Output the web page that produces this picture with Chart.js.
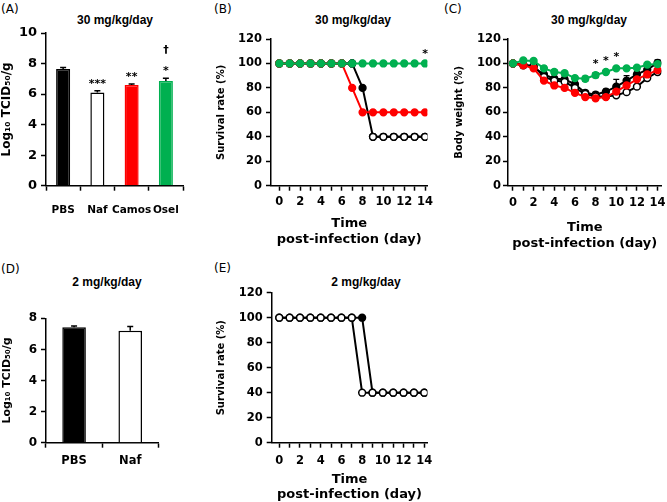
<!DOCTYPE html>
<html><head><meta charset="utf-8">
<script src="https://cdn.jsdelivr.net/npm/chart.js@4.4.0/dist/chart.umd.min.js"></script>
<style>
html,body{margin:0;padding:0;background:#fff;}
#wrap{position:relative;width:667px;height:502px;overflow:hidden;font-family:"Liberation Sans",Arial,sans-serif;color:#000;}
canvas{position:absolute;}
.lbl{position:absolute;font-family:"DejaVu Sans",sans-serif;font-size:12px;transform:translate(0,-50%);white-space:nowrap;}
.ttl{position:absolute;font-size:12px;font-weight:bold;transform:translate(-50%,-50%);white-space:nowrap;}
</style></head><body>
<div id="wrap">
<div class="lbl" style="left:1px;top:9px">(A)</div>
<div class="lbl" style="left:214px;top:9px">(B)</div>
<div class="lbl" style="left:444px;top:9px">(C)</div>
<div class="lbl" style="left:1px;top:269px">(D)</div>
<div class="lbl" style="left:214px;top:268px">(E)</div>
<div class="ttl" style="left:115px;top:20px">30 mg/kg/day</div>
<div class="ttl" style="left:353px;top:20px">30 mg/kg/day</div>
<div class="ttl" style="left:589px;top:20px">30 mg/kg/day</div>
<div class="ttl" style="left:107px;top:282px">2 mg/kg/day</div>
<div class="ttl" style="left:366px;top:282px">2 mg/kg/day</div>
<canvas id="cA" width="210" height="250" style="left:0;top:0;width:210px;height:250px"></canvas>
<canvas id="cB" width="230" height="250" style="left:210px;top:0;width:230px;height:250px"></canvas>
<canvas id="cC" width="227" height="252" style="left:440px;top:0;width:227px;height:252px"></canvas>
<canvas id="cD" width="210" height="252" style="left:0;top:250px;width:210px;height:252px"></canvas>
<canvas id="cE" width="230" height="252" style="left:210px;top:250px;width:230px;height:252px"></canvas>
</div>
<script>
// ---------- data ----------
const days = [0,1,2,3,4,5,6,7,8,9,10,11,12,13,14];
const groupsA = ['PBS','Naf','Camos','Osel'];
const groupsD = ['PBS','Naf'];

// (A) lung titer, 30 mg/kg/day
const titerA = [7.64, 6.11, 6.60, 6.86];
const titerErrA = [0.10, 0.10, 0.06, 0.17];
const sigA = ['', '***', '**', '*'];
const daggerA = ['', '', '', '†'];

// (B) survival, 30 mg/kg/day
const survB_PBS   = [100,100,100,100,100,100,100,100,80,40,40,40,40,40,40];
const survB_Naf   = [100,100,100,100,100,100,100,100,null,40,40,40,40,40,40];
const survB_Camos = [100,100,100,100,100,100,100,80,60,60,60,60,60,60,60];
const survB_Osel  = [100,100,100,100,100,100,100,100,100,100,100,100,100,100,100];
const sigDaysB = [14];

// (C) body weight, 30 mg/kg/day
const bwC_PBS   = [100, 98.5, 97, 91, 87.5, 87, 83, 76, 74.5, 77, 81, 86, 91, 95, 100.5];
const bwC_Naf   = [100, 99, 98, 89, 86, 85, 80, 75, 73, 73, 74, 76.5, 81, 88, 93];
const bwC_Camos = [100, 98.5, 96, 86, 82, 80, 76, 72.5, 71.5, 72.5, 77, 82, 87, 91, 94.5];
const bwC_Osel  = [100, 102.5, 102, 96, 93, 92, 88, 87.5, 90.5, 93, 96, 96, 96.5, 99, 99.5];
const bwErr_PBS   = [0, 2, 1, 2, 2, 2, 1.5, 1.5, 2, 2, 6, 4, 2, 2, 2.5];
const bwErr_Naf   = [0, 1, 1, 1, 1, 1, 1, 1, 1, 1, 1, 1, 1, 1, 1];
const bwErr_Camos = [0, 1, 1, 1, 1, 1, 1, 1, 1.5, 1, 1, 1, 1, 1, 1];
const bwErr_Osel  = [0, 1, 1, 1.5, 2, 1.5, 1.5, 2, 2, 1.5, 1, 1, 1, 1, 1.5];
const sigDaysC = [8, 9, 10];

// (D) lung titer, 2 mg/kg/day
const titerD = [7.42, 7.20];
const titerErrD = [0.08, 0.28];

// (E) survival, 2 mg/kg/day
const survE_PBS = [100,100,100,100,100,100,100,100,100,40,40,40,40,40,40];
const survE_Naf = [100,100,100,100,100,100,100,100,40,40,40,40,40,40,40];

// ---------- styles ----------
const COL = {PBS:'#000000', Naf:'#ffffff', Camos:'#FF0000', Osel:'#00B050'};
const FONT = '"DejaVu Sans", "Liberation Sans", sans-serif';
Chart.defaults.font.family = FONT;
Chart.defaults.font.weight = 'bold';
Chart.defaults.color = '#000';

const errPlugin = {
  id: 'errbars',
  beforeDatasetDraw(chart, args, opts) {
    if (!opts || !opts.sets) return;
    const e = opts.sets[args.index]; if (!e) return;
    const ds = chart.data.datasets[args.index];
    const ys = chart.scales.y, ctx = chart.ctx;
    ctx.save(); ctx.strokeStyle = '#000'; ctx.lineWidth = opts.width || 1.3;
    args.meta.data.forEach((el, i) => {
      const v = ds.data[i], er = e[i];
      if (v == null || !er) return;
      const x = el.x;
      const yt = ys.getPixelForValue(v + er);
      const yb = opts.both ? ys.getPixelForValue(v - er) : el.y;
      ctx.beginPath();
      ctx.moveTo(x, yb); ctx.lineTo(x, yt);
      ctx.moveTo(x - opts.cap, yt); ctx.lineTo(x + opts.cap, yt);
      if (opts.both) { ctx.moveTo(x - opts.cap, yb); ctx.lineTo(x + opts.cap, yb); }
      ctx.stroke();
    });
    ctx.restore();
  }
};
const notePlugin = {
  id: 'notes',
  afterDatasetsDraw(chart, args, opts) {
    if (!opts || !opts.items) return;
    const ctx = chart.ctx, xs = chart.scales.x, ys = chart.scales.y;
    ctx.save(); ctx.fillStyle = '#000'; ctx.textAlign = 'center'; ctx.textBaseline = 'alphabetic';
    opts.items.forEach(it => {
      if (!it.text) return;
      ctx.font = 'bold ' + (it.size || 11) + 'px ' + FONT;
      ctx.fillText(it.text, xs.getPixelForValue(it.x), ys.getPixelForValue(it.y) - it.lift);
    });
    ctx.restore();
  }
};
Chart.register(errPlugin, notePlugin);

function gridOpts() {
  return {drawOnChartArea:false, drawTicks:true, tickLength:5, tickColor:'#000', tickWidth:1.5, color:'#000'};
}
function border() { return {color:'#000', width:1.5}; }
function tf(size) { return {family:FONT, size:size, weight:'bold'}; }

function barChart(id, cats, vals, errs, colors, o) {
  return new Chart(document.getElementById(id), {
    type: 'bar',
    data: {labels: cats, datasets: [{
      data: vals, backgroundColor: colors,
      borderColor: colors.map(c => c === '#ffffff' ? '#000' : c),
      borderWidth: 1.5, barPercentage: o.barPct, categoryPercentage: 1
    }]},
    options: {
      responsive: false, animation: false, devicePixelRatio: 1,
      layout: {padding: {left:0, top:o.top, right:o.right, bottom:0}},
      plugins: {legend:{display:false}, tooltip:{enabled:false},
        errbars: {sets:[errs], cap:3, width:1.5}, notes: {items:o.notes || []}},
      scales: {
        x: {grid: gridOpts(), border: border(),
            ticks: {font:tf(o.xfont), color:'#000', padding:o.xpad, maxRotation:0, autoSkip:false},
            afterFit: s => { s.height = o.xh; s.paddingLeft = 0; s.paddingRight = 0; }},
        y: {min:0, max:o.ymax, grid: gridOpts(), border: border(),
            ticks: {stepSize:2, font:tf(o.yfont), color:'#000', padding:4},
            title: {display:true, text:'Log\u2081\u2080 TCID\u2085\u2080/g', color:'#000', font:{size:o.tfont, weight:'bold'}, padding:{top:o.tpad, bottom:0}},
            afterFit: s => { s.width = o.yw; s.paddingTop = 0; s.paddingBottom = 0; }}
      }
    }
  });
}

function lineDs(data, stroke, fill) {
  return {data, borderColor: stroke, backgroundColor: fill, pointBackgroundColor: fill,
    pointBorderColor: stroke, borderWidth: 2, pointRadius: 3.4,
    pointBorderWidth: 1.5, tension: 0, spanGaps: false};
}

function lineChart(id, datasets, o) {
  return new Chart(document.getElementById(id), {
    type: 'line',
    data: {labels: days, datasets},
    options: {
      responsive: false, animation: false, devicePixelRatio: 1,
      layout: {padding: {left:0, top:o.top, right:o.right, bottom:0}},
      plugins: {legend:{display:false}, tooltip:{enabled:false},
        errbars: {sets:o.errs || [], cap:3, width:1.3, both:true}, notes: {items:o.notes || []}},
      scales: {
        x: {type:'linear', min:o.xmin, max:o.xmax, grid: gridOpts(), border: border(),
            afterBuildTicks: s => { s.ticks = days.map(v => ({value:v})); },
            ticks: {font:tf(11.5), color:'#000', padding:o.xpad, maxRotation:0, autoSkip:false,
                    callback: v => (v % 2 === 0 ? String(v) : '')},
            title: {display:true, text:['Time','post-infection (day)'], color:'#000', font:{size:13, weight:'bold', lineHeight:o.xtlh}, padding:{top:0, bottom:o.xtpad}},
            afterFit: s => { s.height = o.xh; s.paddingLeft = 0; s.paddingRight = 0; }},
        y: {min:0, max:120, grid: gridOpts(), border: border(),
            ticks: {stepSize:20, font:tf(11.5), color:'#000', padding:o.ypad},
            title: {display:true, text:o.ytitle, color:'#000', font:{size:10, weight:'bold'}, padding:{top:o.tpad, bottom:0}},
            afterFit: s => { s.width = o.yw; s.paddingTop = 0; s.paddingBottom = 0; }}
      }
    }
  });
}

// (A)
barChart('cA', groupsA, titerA, titerErrA, [COL.PBS, COL.Naf, COL.Camos, COL.Osel], {
  barPct:0.41, top:33, right:27, xh:64.3, yw:46, ymax:10, xfont:10.5, xpad:12.8, yfont:13, tfont:12, tpad:0,
  notes: sigA.map((t,i) => ({x:i, y:titerA[i]+titerErrA[i], text:t, lift:4}))
         .concat(daggerA.map((t,i) => ({x:i, y:titerA[i]+titerErrA[i], text:t, lift:25})))
});

// (B)
lineChart('cB', [
  lineDs(survB_Osel, COL.Osel, COL.Osel),
  lineDs(survB_Camos, COL.Camos, COL.Camos),
  lineDs(survB_Naf, '#000000', COL.Naf),
  lineDs(survB_PBS, COL.PBS, COL.PBS)
], {top:39, right:12.7, xmin:-0.8, xmax:14.22, xh:64.3, yw:61, xpad:4.4, xtlh:1.23, xtpad:2, ypad:4,
    ytitle:'Survival rate (%)', tpad:5.7,
    notes: sigDaysB.map(d => ({x:d, y:survB_Osel[d], text:'*', lift:6}))});

// (C)
lineChart('cC', [
  lineDs(bwC_Osel, COL.Osel, COL.Osel),
  lineDs(bwC_Camos, COL.Camos, COL.Camos),
  lineDs(bwC_Naf, '#000000', COL.Naf),
  lineDs(bwC_PBS, COL.PBS, COL.PBS)
], {top:39, right:4, xmin:-0.48, xmax:14.38, xh:66.3, yw:68, xpad:5.7, xtlh:1.25, xtpad:0, ypad:2,
    ytitle:'Body weight (%)', tpad:13,
    errs:[bwErr_Osel, bwErr_Camos, bwErr_Naf, bwErr_PBS],
    notes: sigDaysC.map(d => ({x:d, y:bwC_Osel[d], text:'*', lift:8.5}))});

// (D)
barChart('cD', groupsD, titerD, titerErrD, [COL.PBS, COL.Naf], {
  barPct:0.42, top:68.3, right:51.7, xh:59.3, yw:46, ymax:8, xfont:11.5, xpad:6.2, yfont:12, tfont:11, tpad:0.7
});

// (E)
lineChart('cE', [
  lineDs(survE_Naf, '#000000', COL.Naf),
  lineDs(survE_PBS, COL.PBS, COL.PBS)
], {top:42.7, right:12.7, xmin:-0.73, xmax:14.29, xh:59.3, yw:61.7, xpad:6.2, xtlh:1.15, xtpad:0, ypad:4,
    ytitle:'Survival rate (%)', tpad:5.7});
</script>
</body></html>
